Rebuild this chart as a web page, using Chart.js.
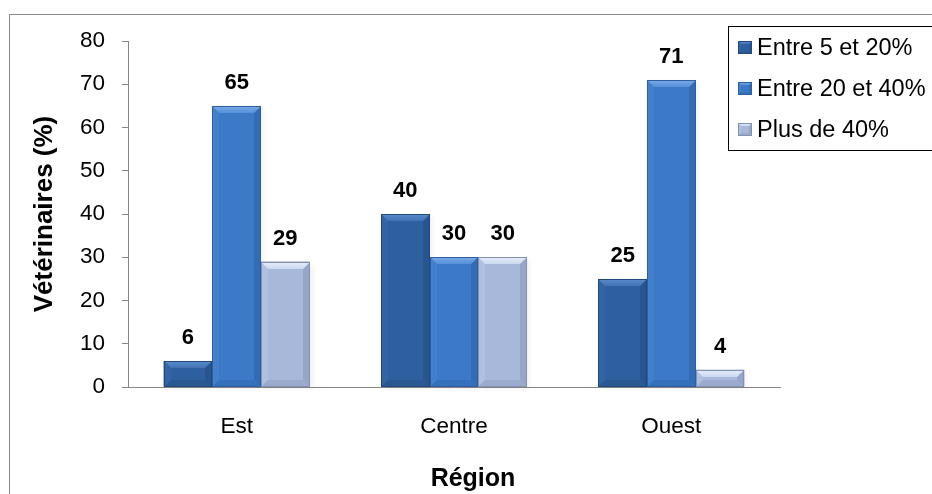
<!DOCTYPE html>
<html lang="fr">
<head>
<meta charset="utf-8">
<title>Vétérinaires par région</title>
<script src="https://cdn.jsdelivr.net/npm/chart.js@4.4.1/dist/chart.umd.min.js"></script>
<style>
  html, body { margin: 0; padding: 0; background: #fff; }
</style>
</head>
<body>
<canvas id="regionChart" width="932" height="494"></canvas>
<script>
// Data
const regions = ['Est', 'Centre', 'Ouest'];
const seriesNames = ['Entre 5 et 20%', 'Entre 20 et 40%', 'Plus de 40%'];
const entre5et20 = [6, 40, 25];
const entre20et40 = [65, 30, 71];
const plusDe40 = [29, 30, 4];
const yTicks = [0, 10, 20, 30, 40, 50, 60, 70, 80];

const FONT = "'Liberation Sans', Arial, sans-serif";
const AXIS_GREY = '#868686';

// shades for the bevelled bars: face, top (two stops), left, right, bottom
const palettes = [
  { face: '#2e5f9e', top: '#5a8bc9', top2: '#4273b4', left: '#3364a4', right: '#28558e', bottom: '#2a5893', edge: '#22497d' },
  { face: '#3c79c7', top: '#79abe8', top2: '#5690d9', left: '#4280cd', right: '#336cb5', bottom: '#3570bb', edge: '#2d5f9f' },
  { face: '#a7b8d9', top: '#e6eefa', top2: '#cbd8ef', left: '#afc0e0', right: '#95a6c8', bottom: '#9aabcd', edge: '#8192b4' }
];

function bevelRect(ctx, x0, y0, x1, y1, pal, size) {
  const b = Math.min(size, (y1 - y0) / 2, (x1 - x0) / 2);
  ctx.fillStyle = pal.face;
  ctx.fillRect(x0, y0, x1 - x0, y1 - y0);

  const poly = (pts, color) => {
    ctx.beginPath();
    ctx.moveTo(pts[0][0], pts[0][1]);
    for (let i = 1; i < pts.length; i++) ctx.lineTo(pts[i][0], pts[i][1]);
    ctx.closePath();
    ctx.fillStyle = color;
    ctx.fill();
  };
  poly([[x0, y0], [x0 + b, y0 + b], [x0 + b, y1 - b], [x0, y1]], pal.left);
  poly([[x1, y0], [x1, y1], [x1 - b, y1 - b], [x1 - b, y0 + b]], pal.right);
  poly([[x0, y1], [x0 + b, y1 - b], [x1 - b, y1 - b], [x1, y1]], pal.bottom);

  const g = ctx.createLinearGradient(0, y0, 0, y0 + b);
  g.addColorStop(0, pal.top);
  g.addColorStop(1, pal.top2);
  poly([[x0, y0], [x1, y0], [x1 - b, y0 + b], [x0 + b, y0 + b]], g);

  ctx.strokeStyle = pal.edge;
  ctx.lineWidth = 1;
  ctx.strokeRect(x0 + 0.5, y0 + 0.5, x1 - x0 - 1, y1 - y0 - 1);
}

// outer frame, partly running off the canvas
const framePlugin = {
  id: 'frame',
  beforeDraw(chart) {
    const ctx = chart.ctx;
    ctx.save();
    ctx.fillStyle = '#fff';
    ctx.fillRect(0, 0, chart.width, chart.height);
    ctx.strokeStyle = '#8a8a8a';
    ctx.lineWidth = 1;
    ctx.strokeRect(9.5, 14.5, 1000, 1000);
    ctx.restore();
  }
};

// soft shadow under the bars, then bevel on top of the plain fill
const bevelPlugin = {
  id: 'bevel',
  beforeDatasetsDraw(chart) {
    const ctx = chart.ctx;
    ctx.save();
    ctx.shadowColor = 'rgba(0,0,0,0.3)';
    ctx.shadowBlur = 5;
    ctx.shadowOffsetX = 3;
    ctx.shadowOffsetY = 2;
    ctx.fillStyle = 'rgba(0,0,0,0.2)';
    chart.data.datasets.forEach((ds, i) => {
      chart.getDatasetMeta(i).data.forEach(bar => {
        const x0 = bar.x - bar.width / 2;
        ctx.fillRect(x0, bar.y, bar.width, bar.base - bar.y);
      });
    });
    ctx.restore();
  },
  afterDatasetsDraw(chart) {
    const ctx = chart.ctx;
    ctx.save();
    chart.data.datasets.forEach((ds, i) => {
      chart.getDatasetMeta(i).data.forEach((bar, j) => {
        const x0 = Math.round(bar.x - bar.width / 2);
        const x1 = Math.round(bar.x + bar.width / 2);
        bevelRect(ctx, x0, Math.round(bar.y), x1, Math.round(bar.base), palettes[i], 7);

        // value label above the bar
        ctx.fillStyle = '#000';
        ctx.font = 'bold 22px ' + FONT;
        ctx.textAlign = 'center';
        ctx.textBaseline = 'middle';
        ctx.fillText(String(ds.data[j]), bar.x, bar.y - 23);
      });
    });
    ctx.restore();
  }
};

// legend box at the top right and the x-axis title
const legendPlugin = {
  id: 'boxLegend',
  afterDraw(chart) {
    const ctx = chart.ctx;
    ctx.save();
    ctx.strokeStyle = '#000';
    ctx.lineWidth = 1;
    ctx.strokeRect(728.5, 26.5, 400, 124);

    const rowY = [48, 89, 130];
    seriesNames.forEach((name, i) => {
      bevelRect(ctx, 738, rowY[i] - 7, 752, rowY[i] + 6, palettes[i], 3);
      ctx.fillStyle = '#000';
      ctx.font = '23.5px ' + FONT;
      ctx.textAlign = 'left';
      ctx.textBaseline = 'middle';
      ctx.fillText(name, 757, rowY[i] + 1);
    });

    ctx.font = 'bold 25px ' + FONT;
    ctx.textAlign = 'center';
    ctx.fillText('Région', 473, 479);
    ctx.restore();
  }
};

new Chart(document.getElementById('regionChart'), {
  type: 'bar',
  data: {
    labels: regions,
    datasets: [
      { label: seriesNames[0], data: entre5et20, backgroundColor: palettes[0].face },
      { label: seriesNames[1], data: entre20et40, backgroundColor: palettes[1].face },
      { label: seriesNames[2], data: plusDe40, backgroundColor: palettes[2].face }
    ]
  },
  options: {
    responsive: false,
    animation: false,
    layout: { padding: { top: 41, right: 152, bottom: 0, left: 0 } },
    datasets: {
      bar: { categoryPercentage: 0.672, barPercentage: 1 }
    },
    plugins: {
      legend: { display: false },
      tooltip: { enabled: false }
    },
    scales: {
      x: {
        grid: { display: false },
        border: { color: AXIS_GREY, width: 1 },
        ticks: { color: '#000', font: { family: FONT, size: 22.5 }, padding: 18 },
        afterFit(scale) { scale.height = 107; }
      },
      y: {
        min: 0,
        max: 80,
        afterBuildTicks(scale) { scale.ticks = yTicks.map(v => ({ value: v })); },
        grid: { drawOnChartArea: false, drawTicks: true, tickLength: 6, color: AXIS_GREY },
        border: { color: AXIS_GREY, width: 1 },
        ticks: { color: '#000', font: { family: FONT, size: 22.5 }, padding: 17 },
        title: {
          display: true,
          text: 'Vétérinaires (%)',
          color: '#000',
          font: { family: FONT, size: 26, weight: 'bold' },
          padding: { top: 29, bottom: 0 }
        },
        afterFit(scale) { scale.width = 128; }
      }
    }
  },
  plugins: [framePlugin, bevelPlugin, legendPlugin]
});
</script>
</body>
</html>
